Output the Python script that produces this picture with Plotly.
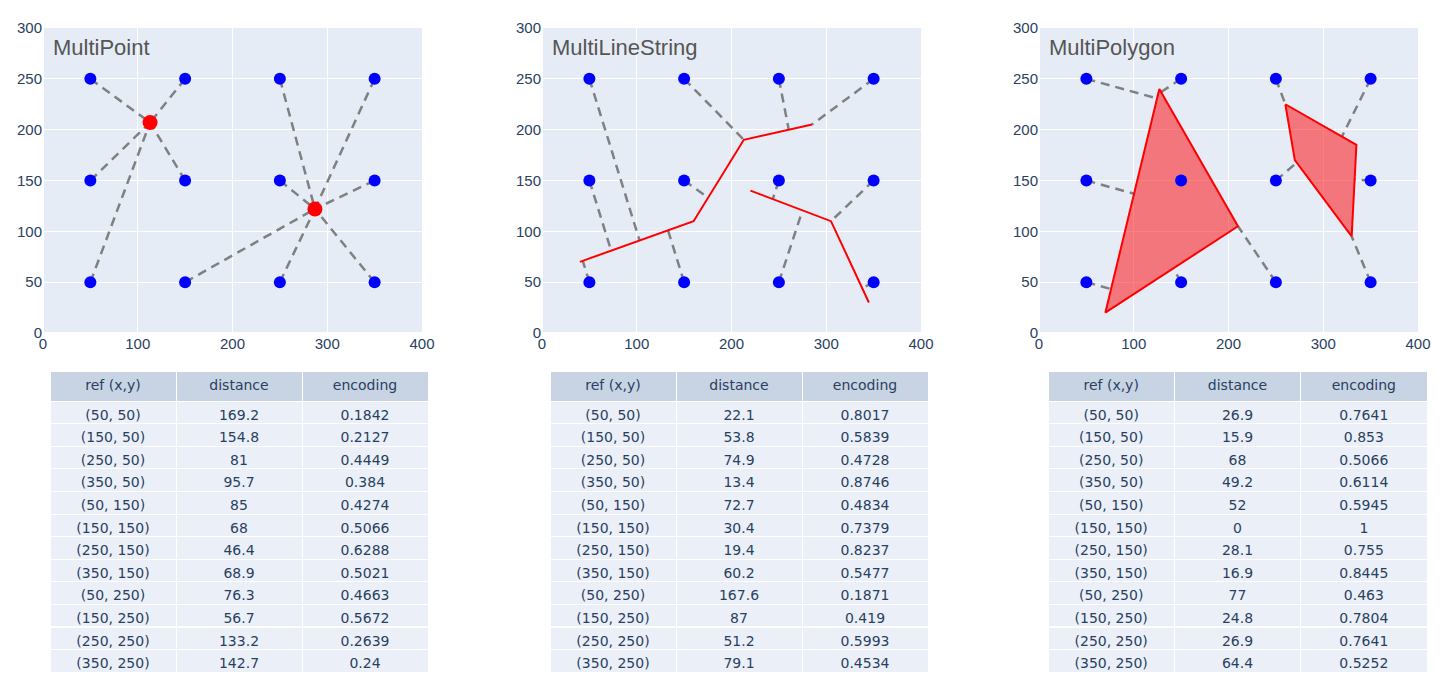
import numpy as np
import plotly.graph_objects as go

W, H = 1454, 697
OFF = 8  # page body margin

# ---------------- data ----------------
ref_x = [50, 150, 250, 350, 50, 150, 250, 350, 50, 150, 250, 350]
ref_y = [50, 50, 50, 50, 150, 150, 150, 150, 250, 250, 250, 250]
ref_labels = ["(50, 50)", "(150, 50)", "(250, 50)", "(350, 50)",
              "(50, 150)", "(150, 150)", "(250, 150)", "(350, 150)",
              "(50, 250)", "(150, 250)", "(250, 250)", "(350, 250)"]

# MultiPoint geometry
mp_x = [113, 287]
mp_y = [207, 122]

# MultiLineString geometry
ml_lines = [
    ([40, 160, 213, 285], [70, 110, 190, 205]),
    ([220, 305, 345], [140, 110, 30]),
]

# MultiPolygon geometry
mpoly = [
    ([70, 127, 210], [20, 240, 105]),
    ([260, 270, 330, 335], [225, 170, 95, 185]),
]

# table values
mp_dist = ["169.2", "154.8", "81", "95.7", "85", "68", "46.4", "68.9", "76.3", "56.7", "133.2", "142.7"]
mp_enc = ["0.1842", "0.2127", "0.4449", "0.384", "0.4274", "0.5066", "0.6288", "0.5021", "0.4663", "0.5672", "0.2639", "0.24"]
ml_dist = ["22.1", "53.8", "74.9", "13.4", "72.7", "30.4", "19.4", "60.2", "167.6", "87", "51.2", "79.1"]
ml_enc = ["0.8017", "0.5839", "0.4728", "0.8746", "0.4834", "0.7379", "0.8237", "0.5477", "0.1871", "0.419", "0.5993", "0.4534"]
pg_dist = ["26.9", "15.9", "68", "49.2", "52", "0", "28.1", "16.9", "77", "24.8", "26.9", "64.4"]
pg_enc = ["0.7641", "0.853", "0.5066", "0.6114", "0.5945", "1", "0.755", "0.8445", "0.463", "0.7804", "0.7641", "0.5252"]

titles = ["MultiPoint", "MultiLineString", "MultiPolygon"]
col_headers = ["ref (x,y)", "distance", "encoding"]


# ---------------- geometry helpers ----------------
def nearest_on_segment(p, a, b):
    p, a, b = map(np.asarray, (p, a, b))
    d = b - a
    t = np.clip(np.dot(p - a, d) / np.dot(d, d), 0, 1)
    return a + t * d


def nearest_on_polyline(p, xs, ys, closed=False):
    pts = list(zip(xs, ys))
    if closed:
        pts = pts + [pts[0]]
    best, bd = None, np.inf
    for a, b in zip(pts[:-1], pts[1:]):
        q = nearest_on_segment(p, a, b)
        dd = np.hypot(*(q - np.asarray(p)))
        if dd < bd:
            best, bd = q, dd
    return best, bd


def inside_poly(p, xs, ys):
    x, y = p
    n = len(xs)
    inside = False
    j = n - 1
    for i in range(n):
        if ((ys[i] > y) != (ys[j] > y)) and \
                (x < (xs[j] - xs[i]) * (y - ys[i]) / (ys[j] - ys[i]) + xs[i]):
            inside = not inside
        j = i
    return inside


def connectors(kind):
    lx, ly = [], []
    for px, py in zip(ref_x, ref_y):
        p = (px, py)
        if kind == "point":
            ds = [np.hypot(px - gx, py - gy) for gx, gy in zip(mp_x, mp_y)]
            k = int(np.argmin(ds))
            q = (mp_x[k], mp_y[k])
        elif kind == "line":
            cands = [nearest_on_polyline(p, xs, ys) for xs, ys in ml_lines]
            q = min(cands, key=lambda c: c[1])[0]
        else:
            if any(inside_poly(p, xs, ys) for xs, ys in mpoly):
                continue
            cands = [nearest_on_polyline(p, xs, ys, closed=True) for xs, ys in mpoly]
            q = min(cands, key=lambda c: c[1])[0]
        lx += [px, float(q[0]), None]
        ly += [py, float(q[1]), None]
    return lx, ly


# ---------------- figure ----------------
fig = go.Figure()

plot_px = [(43, 422), (542, 921), (1039, 1418)]
table_px = [(50, 428), (550, 928), (1048, 1427)]


def fx(px):
    return (px - OFF) / W


def fy(py):
    return 1 - (py - OFF) / H


ydom = [fy(333), fy(28)]

dash_style = dict(color="gray", width=2.5, dash="9px,6px")
blue_marker = dict(color="blue", size=12)

for i, kind in enumerate(["point", "line", "poly"]):
    xa = "x" if i == 0 else f"x{i+1}"
    ya = "y" if i == 0 else f"y{i+1}"
    lx, ly = connectors(kind)
    fig.add_trace(go.Scatter(x=lx, y=ly, mode="lines", line=dash_style,
                             xaxis=xa, yaxis=ya, hoverinfo="skip"))
    if kind == "point":
        fig.add_trace(go.Scatter(x=ref_x, y=ref_y, mode="markers", marker=blue_marker,
                                 xaxis=xa, yaxis=ya))
        fig.add_trace(go.Scatter(x=mp_x, y=mp_y, mode="markers",
                                 marker=dict(color="red", size=15), xaxis=xa, yaxis=ya))
    elif kind == "line":
        fig.add_trace(go.Scatter(x=ref_x, y=ref_y, mode="markers", marker=blue_marker,
                                 xaxis=xa, yaxis=ya))
        for xs, ys in ml_lines:
            fig.add_trace(go.Scatter(x=xs, y=ys, mode="lines",
                                     line=dict(color="red", width=2), xaxis=xa, yaxis=ya))
    else:
        for xs, ys in mpoly:
            fig.add_trace(go.Scatter(x=xs + [xs[0]], y=ys + [ys[0]], mode="lines",
                                     fill="toself", fillcolor="rgba(255,0,0,0.5)",
                                     line=dict(color="red", width=2), xaxis=xa, yaxis=ya))
        fig.add_trace(go.Scatter(x=ref_x, y=ref_y, mode="markers", marker=blue_marker,
                                 xaxis=xa, yaxis=ya))

    x0, x1 = plot_px[i]
    axis_font = dict(family="Liberation Sans", size=15, color="#2a3f5f")
    fig.layout[f"xaxis{'' if i == 0 else i+1}"] = dict(
        domain=[fx(x0), fx(x1)], range=[0, 400], dtick=100, anchor=ya,
        automargin=False, tickfont=axis_font)
    fig.layout[f"yaxis{'' if i == 0 else i+1}"] = dict(
        domain=ydom, range=[0, 300], dtick=50, anchor=xa,
        automargin=False, tickfont=axis_font)
    fig.add_annotation(text=titles[i], xref=f"{xa} domain", yref=f"{ya} domain",
                       x=0.02, y=0.985, xanchor="left", yanchor="top", showarrow=False,
                       font=dict(family="Liberation Sans", size=22, color="#555555"))

tables = [(mp_dist, mp_enc), (ml_dist, ml_enc), (pg_dist, pg_enc)]
for i, (dist, enc) in enumerate(tables):
    x0, x1 = table_px[i]
    fig.add_trace(go.Table(
        domain=dict(x=[fx(x0), fx(x1)], y=[0, fy(371)]),
        header=dict(values=col_headers, height=30,
                    font=dict(family="DejaVu Sans", size=14, color="#2a3f5f")),
        cells=dict(values=[ref_labels, dist, enc], height=22.6,
                   font=dict(family="DejaVu Sans", size=14, color="#2a3f5f")),
    ))

fig.update_layout(width=W, height=H, showlegend=False,
                  margin=dict(l=0, r=0, t=0, b=0),
                  template="plotly")

fig.write_html("out.html")
